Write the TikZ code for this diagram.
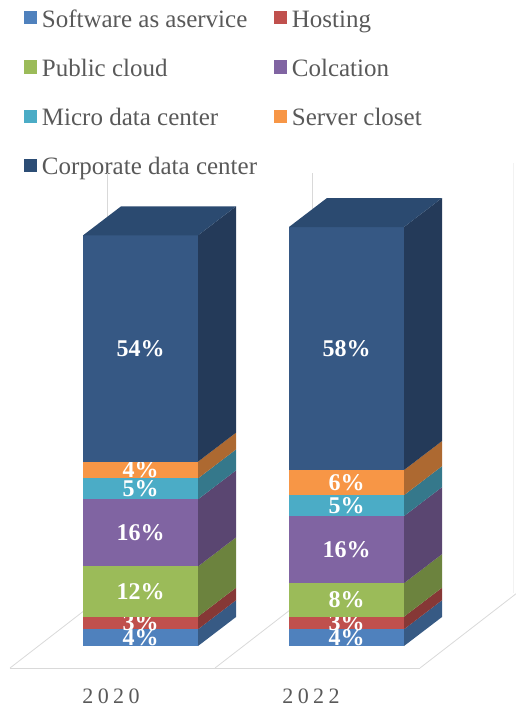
\documentclass[tikz,border=0pt]{standalone}
\usepackage{fontspec}
\setmainfont{Liberation Serif}
\usetikzlibrary{positioning, calc}

\definecolor{saas}{HTML}{4F81BD}
\definecolor{host}{HTML}{C0504D}
\definecolor{pub}{HTML}{9BBB59}
\definecolor{coloc}{HTML}{8064A2}
\definecolor{micro}{HTML}{4BACC6}
\definecolor{closet}{HTML}{F79646}
\definecolor{corp}{HTML}{365884}
\definecolor{corpkey}{HTML}{2C4D75}
\definecolor{corptop}{HTML}{2B4A70}
\definecolor{corpside}{HTML}{243A59}
\definecolor{txtgray}{HTML}{595959}
\colorlet{saasside}{saas!70!black}
\colorlet{hostside}{host!70!black}
\colorlet{pubside}{pub!70!black}
\colorlet{colocside}{coloc!70!black}
\colorlet{microside}{micro!70!black}
\colorlet{closetside}{closet!70!black}

% one slice of a column: left x, from %, to %, colour, label, node name
\newcommand{\slice}[6]{%
  \fill[#4] (#1,{646-4.19*#2}) rectangle ({#1+115},{646-4.19*#3});
  \fill[#4side] ({#1+115},{646-4.19*#2}) -- ++(38,-29) -- ++(0,{-4.19*(#3-#2)}) -- ++(-38,29) -- cycle;
  \node[pct] (#6) at ({#1+57.5},{646-4.19*(#2+#3)/2}) {#5\%};
}

\begin{document}
\begin{tikzpicture}[x=1pt, y=-1pt,
    grid/.style={draw=gray!30, line width=0.8pt},
    key/.style={minimum size=13pt, inner sep=0pt},
    legtext/.style={text=txtgray, font=\fontsize{25}{28}\selectfont, inner sep=0pt},
    pct/.style={text=white, font=\fontsize{24}{26}\selectfont\bfseries, inner sep=0pt},
    yearlbl/.style={text=txtgray, font=\fontsize{22}{24}\selectfont\addfontfeature{LetterSpace=20}, inner sep=0pt, anchor=base}]

    \useasboundingbox (0,0) rectangle (516,709);

    % legend
    \node[key, fill=saas] (k-saas) at (30,18) {};
    \node[key, fill=host] (k-host) at (280,18) {};
    \node[key, fill=pub] (k-pub) at (30,67) {};
    \node[key, fill=coloc] (k-coloc) at (280,67) {};
    \node[key, fill=micro] (k-micro) at (30,116) {};
    \node[key, fill=closet] (k-closet) at (280,116) {};
    \node[key, fill=corpkey] (k-corp) at (30,165) {};

    \node[legtext, right=5pt of k-saas.south east, anchor=base west, yshift=-3pt] (t-saas) {Software as aservice};
    \node[legtext, right=5pt of k-host.south east, anchor=base west, yshift=-3pt] (t-host) {Hosting};
    \node[legtext, right=5pt of k-pub.south east, anchor=base west, yshift=-3pt] (t-pub) {Public cloud};
    \node[legtext, right=5pt of k-coloc.south east, anchor=base west, yshift=-3pt] (t-coloc) {Colcation};
    \node[legtext, right=5pt of k-micro.south east, anchor=base west, yshift=-3pt] (t-micro) {Micro data center};
    \node[legtext, right=5pt of k-closet.south east, anchor=base west, yshift=-3pt] (t-closet) {Server closet};
    \node[legtext, right=5pt of k-corp.south east, anchor=base west, yshift=-3pt] (t-corp) {Corporate data center};

    % floor and back wall
    \coordinate (fl) at (10,668);
    \coordinate (fm) at (215,668);
    \coordinate (fr) at (420,668);
    \draw[grid] (fl) -- ++(97,-75) coordinate (bl);
    \draw[grid] (fm) -- ++(97,-75) coordinate (bm);
    \draw[grid] (fr) -- ++(97,-75) coordinate (br);
    \draw[grid] (fl) -- (fr);
    \draw[grid] (bl) -- ++(0,-420);
    \draw[grid] (bm) -- ++(0,-420);
    \draw[draw=gray!10] ($(br)+(-4,0)$) -- ++(0,-430);

    % 2020
    \slice{83}{0}{4}{saas}{4}{a-saas}
    \slice{83}{4}{7}{host}{3}{a-host}
    \slice{83}{7}{19}{pub}{12}{a-pub}
    \slice{83}{19}{35}{coloc}{16}{a-coloc}
    \slice{83}{35}{40}{micro}{5}{a-micro}
    \slice{83}{40}{44}{closet}{4}{a-closet}
    \slice{83}{44}{98}{corp}{54}{a-corp}
    \fill[corptop] (83,{646-4.19*98}) -- ++(38,-29) -- ++(115,0) -- ++(-38,29) -- cycle;

    % 2022
    \slice{289}{0}{4}{saas}{4}{b-saas}
    \slice{289}{4}{7}{host}{3}{b-host}
    \slice{289}{7}{15}{pub}{8}{b-pub}
    \slice{289}{15}{31}{coloc}{16}{b-coloc}
    \slice{289}{31}{36}{micro}{5}{b-micro}
    \slice{289}{36}{42}{closet}{6}{b-closet}
    \slice{289}{42}{100}{corp}{58}{b-corp}
    \fill[corptop] (289,{646-4.19*100}) -- ++(38,-29) -- ++(115,0) -- ++(-38,29) -- cycle;

    \node[yearlbl] (y2020) at (111,703) {2020};
    \node[yearlbl] (y2022) at (311,703) {2022};

\end{tikzpicture}
\end{document}
